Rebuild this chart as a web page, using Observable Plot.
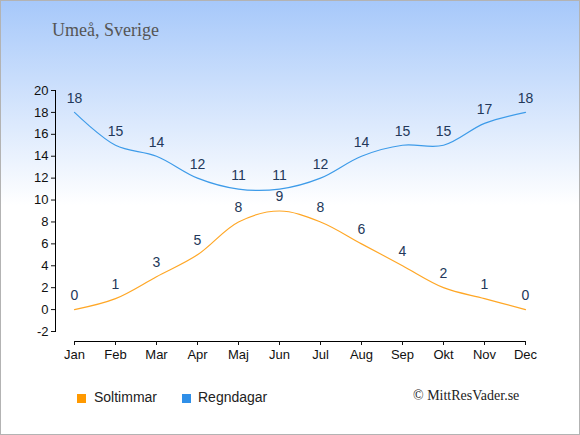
<!DOCTYPE html>
<html><head><meta charset="utf-8">
<script src="https://cdn.jsdelivr.net/npm/d3@7"></script>
<script src="https://cdn.jsdelivr.net/npm/@observablehq/plot@0.6"></script>
<style>
html,body{margin:0;padding:0;}
#wrap{position:relative;width:580px;height:435px;overflow:hidden;background:linear-gradient(to bottom,#a6c8fa 0px,#ffffff 205px,#ffffff 435px);}
#border{position:absolute;left:0;top:0;width:580px;height:435px;box-sizing:border-box;border:1px solid #b3b3b3;pointer-events:none;}
#title{position:absolute;left:52px;top:20px;font-family:"Liberation Serif","Times New Roman",serif;font-size:18px;color:#555;}
#chart{position:absolute;left:0;top:0;}
.leg{position:absolute;top:389px;font-family:"Liberation Sans",Arial,sans-serif;font-size:14px;color:#222;}
.sw{position:absolute;top:394px;width:9px;height:9px;}
#copy{position:absolute;left:413px;top:388px;font-family:"Liberation Serif","Times New Roman",serif;font-size:14px;color:#222;}
</style></head>
<body>
<div id="wrap">
  <div id="title">Umeå, Sverige</div>
  <div id="chart"></div>
  <div class="sw" style="left:77px;background:#ff9900;"></div>
  <div class="leg" style="left:94px;">Soltimmar</div>
  <div class="sw" style="left:182px;background:#2f8fe8;"></div>
  <div class="leg" style="left:198px;">Regndagar</div>
  <div id="copy">© MittResVader.se</div>
  <div id="border"></div>
</div>
<script>
const months = ["Jan","Feb","Mar","Apr","Maj","Jun","Jul","Aug","Sep","Okt","Nov","Dec"];
const soltimmar = [0,1,3,5,8,9,8,6,4,2,1,0];
const regndagar = [18,15,14,12,11,11,12,14,15,15,17,18];
const yTicks = [-2,0,2,4,6,8,10,12,14,16,18,20];

const sun = months.map((m,i)=>({m, v: soltimmar[i]}));
const rain = months.map((m,i)=>({m, v: regndagar[i]}));

const plot = Plot.plot({
  width: 580,
  height: 370,
  marginTop: 90,
  marginBottom: 29,
  marginLeft: 55,
  marginRight: 55,
  style: {background: "transparent", fontFamily: "'Liberation Sans', Arial, sans-serif"},
  x: {type: "point", domain: months, padding: 0, insetLeft: 19, label: null},
  y: {domain: [-2, 20], insetBottom: 10, label: null},
  marks: [
    Plot.frame({anchor: "left", insetBottom: 10, stroke: "#000"}),
    Plot.frame({anchor: "bottom", insetLeft: 19, stroke: "#000"}),
    Plot.axisY({ticks: yTicks, tickFormat: d => String(d), tickSize: 4, tickPadding: 3, fontSize: 13, color: "#111", label: null}),
    Plot.axisX({tickSize: 4, tickPadding: 4, fontSize: 13, color: "#111", label: null}),
    Plot.line(rain, {x: "m", y: "v", stroke: "#3d9be9", strokeWidth: 1.2, curve: "catmull-rom"}),
    Plot.line(sun, {x: "m", y: "v", stroke: "#ffa726", strokeWidth: 1.2, curve: "catmull-rom"}),
    Plot.text(rain, {x: "m", y: "v", text: "v", dy: -14, fontSize: 14, fill: "#23385a"}),
    Plot.text(sun, {x: "m", y: "v", text: "v", dy: -14, fontSize: 14, fill: "#23385a"})
  ]
});
document.getElementById("chart").appendChild(plot);
</script>
</body></html>
